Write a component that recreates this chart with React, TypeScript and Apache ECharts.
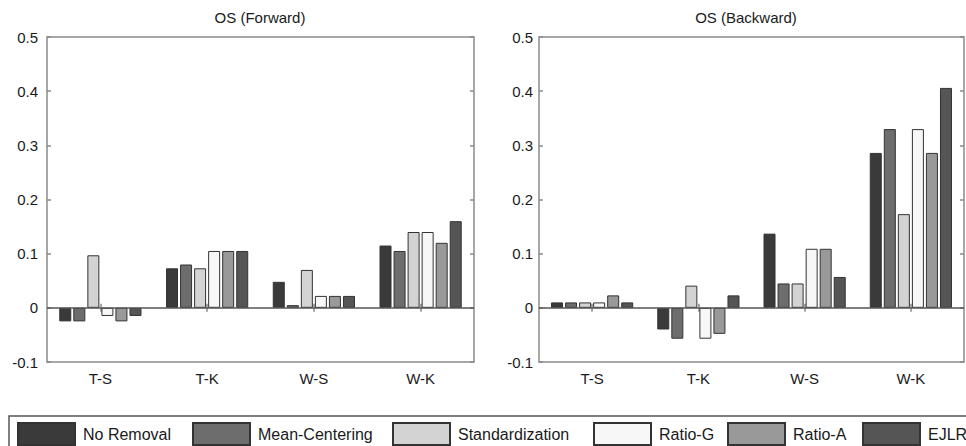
import React, { useEffect, useRef } from "react";
import * as echarts from "echarts";

const categories = ["T-S", "T-K", "W-S", "W-K"];
const methodNames = ["No Removal", "Mean-Centering", "Standardization", "Ratio-G", "Ratio-A", "EJLR"];
const methodColors = ["#3a3a3a", "#6d6d6d", "#d3d3d3", "#f7f7f7", "#999999", "#555555"];

const forwardNoRemoval = [-0.025, 0.073, 0.048, 0.115];
const forwardMeanCentering = [-0.025, 0.08, 0.005, 0.105];
const forwardStandardization = [0.097, 0.073, 0.07, 0.14];
const forwardRatioG = [-0.015, 0.105, 0.022, 0.14];
const forwardRatioA = [-0.025, 0.105, 0.022, 0.12];
const forwardEJLR = [-0.015, 0.105, 0.022, 0.16];

const backwardNoRemoval = [0.01, -0.04, 0.137, 0.286];
const backwardMeanCentering = [0.01, -0.057, 0.045, 0.33];
const backwardStandardization = [0.01, 0.041, 0.045, 0.173];
const backwardRatioG = [0.01, -0.057, 0.109, 0.33];
const backwardRatioA = [0.023, -0.048, 0.109, 0.286];
const backwardEJLR = [0.01, 0.023, 0.057, 0.406];

const forwardSeries = [forwardNoRemoval, forwardMeanCentering, forwardStandardization, forwardRatioG, forwardRatioA, forwardEJLR];
const backwardSeries = [backwardNoRemoval, backwardMeanCentering, backwardStandardization, backwardRatioG, backwardRatioA, backwardEJLR];

const panelTitles = ["OS (Forward)", "OS (Backward)"];
const legendLefts = [17, 192, 392, 593, 727, 862];

const FONT = "'Liberation Sans', Arial, Helvetica, sans-serif";
const AXIS_COLOR = "#8a8a8a";
const TEXT_COLOR = "#1a1a1a";

export default function App() {
  const ref = useRef<HTMLDivElement>(null);

  useEffect(() => {
    if (!ref.current) return;
    const chart = echarts.init(ref.current, undefined, { renderer: "svg" });

    const grids = [
      { left: 47, right: 492, top: 37, bottom: 84 },
      { left: 539, right: 2, top: 37, bottom: 84 },
    ];

    const xAxes: any[] = [];
    const yAxes: any[] = [];
    grids.forEach((_, gi) => {
      xAxes.push({
        type: "category",
        gridIndex: gi,
        data: categories,
        position: "bottom",
        axisLine: { show: false },
        axisTick: { show: true, inside: true, alignWithLabel: true, length: 4, lineStyle: { color: AXIS_COLOR, width: 1.5 } },
        axisLabel: { color: TEXT_COLOR, fontSize: 15, fontFamily: FONT, margin: 9 },
        splitLine: { show: false },
      });
      xAxes.push({
        type: "category",
        gridIndex: gi,
        data: categories,
        position: "top",
        axisLine: { show: false },
        axisTick: { show: true, inside: true, alignWithLabel: true, length: 4, lineStyle: { color: AXIS_COLOR, width: 1.5 } },
        axisLabel: { show: false },
        splitLine: { show: false },
      });
      yAxes.push({
        type: "value",
        gridIndex: gi,
        min: -0.1,
        max: 0.5,
        interval: 0.1,
        position: "left",
        axisLine: { show: false },
        axisTick: { show: true, inside: true, length: 4, lineStyle: { color: AXIS_COLOR, width: 1.5 } },
        axisLabel: {
          color: TEXT_COLOR,
          fontSize: 15,
          fontFamily: FONT,
          margin: gi === 0 ? 9 : 6,
          formatter: (v: number) => String(Math.round(v * 10) / 10),
        },
        splitLine: { show: false },
      });
      yAxes.push({
        type: "value",
        gridIndex: gi,
        min: -0.1,
        max: 0.5,
        interval: 0.1,
        position: "right",
        axisLine: { show: false },
        axisTick: { show: true, inside: true, length: 4, lineStyle: { color: AXIS_COLOR, width: 1.5 } },
        axisLabel: { show: false },
        splitLine: { show: false },
      });
    });

    const series: any[] = [];
    [forwardSeries, backwardSeries].forEach((panel, pi) => {
      panel.forEach((vals, si) => {
        const s: any = {
          type: "bar",
          name: methodNames[si],
          xAxisIndex: pi * 2,
          yAxisIndex: pi * 2,
          data: vals,
          barWidth: 12,
          barGap: "17%",
          itemStyle: { color: methodColors[si], borderColor: "#333333", borderWidth: 1 },
        };
        if (si === 0) {
          s.markLine = {
            silent: true,
            symbol: "none",
            label: { show: false },
            lineStyle: { color: "#555555", width: 1.5, type: "solid" },
            data: [{ yAxis: 0 }],
            z: 10,
          };
        }
        series.push(s);
      });
    });

    const legends = methodNames.map((name, i) => ({
      data: [name],
      left: legendLefts[i],
      top: 422,
      padding: 0,
      itemWidth: 57,
      itemHeight: 22,
      icon: "rect",
      selectedMode: false,
      textStyle: { color: TEXT_COLOR, fontSize: 16, fontFamily: FONT, padding: [0, 0, 0, 3] },
    }));

    chart.setOption({
      animation: false,
      backgroundColor: "#ffffff",
      title: panelTitles.map((t, i) => ({
        text: t,
        left: i === 0 ? 260 : 746,
        top: 10,
        textAlign: "center",
        padding: 0,
        textStyle: { color: TEXT_COLOR, fontSize: 15, fontWeight: "normal", fontFamily: FONT },
      })),
      grid: grids.map((g) => ({ ...g, show: true, borderColor: AXIS_COLOR, borderWidth: 1.5, backgroundColor: "transparent" })),
      xAxis: xAxes,
      yAxis: yAxes,
      legend: legends,
      series,
      graphic: [
        {
          type: "rect",
          shape: { x: 9, y: 416, width: 970, height: 40 },
          style: { fill: "none", stroke: "#555555", lineWidth: 1.5 },
          silent: true,
        },
      ],
    });

    return () => chart.dispose();
  }, []);

  return (
    <div
      ref={ref}
      style={{ position: "absolute", left: 0, top: 0, width: 966, height: 446, background: "#fff" }}
    />
  );
}
